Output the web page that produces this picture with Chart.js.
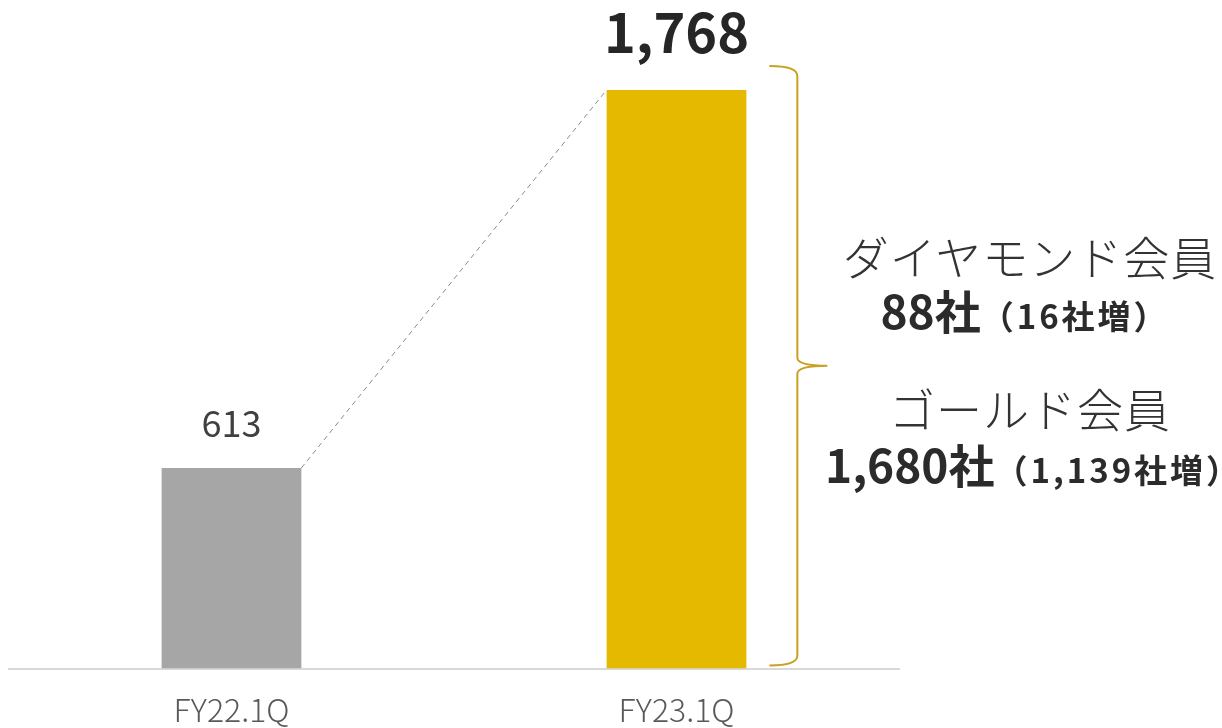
<!DOCTYPE html>
<html lang="ja">
  <head>
    <meta charset="UTF-8" />
    <title>会員数推移</title>
    <script src="https://cdn.jsdelivr.net/npm/chart.js"></script>
    <style>
      body {
        margin: 0;
        background: #fff;
        font-family: "Noto Sans CJK JP", sans-serif;
      }
      .wrap {
        position: relative;
        width: 1222px;
        height: 728px;
      }
      .note {
        position: absolute;
        left: 830px;
        width: 400px;
        text-align: center;
        color: #333;
        white-space: nowrap;
        line-height: 1;
      }
      .kind {
        font-size: 46px;
        font-weight: 300;
        letter-spacing: 1px;
      }
      .count {
        left: 825px;
        font-weight: 700;
        font-size: 46px;
        color: #2b2b2b;
      }
      .count small {
        font-size: 33px;
        letter-spacing: 3px;
      }
    </style>
  </head>
  <body>
    <div class="wrap">
      <canvas id="memberChart"></canvas>
      <!-- 右側の内訳 -->
      <div class="note kind" style="top: 232px">ダイヤモンド会員</div>
      <div class="note count" style="top: 286px">88社<small>（16社増）</small></div>
      <div class="note kind" style="top: 384px">ゴールド会員</div>
      <div class="note count" style="top: 440px">1,680社<small>（1,139社増）</small></div>
    </div>

    <script>
      // データ
      const periods = ["FY22.1Q", "FY23.1Q"];
      const members = [613, 1768];
      const barColors = ["#a6a6a6", "#e5b900"];

      // 棒の上の数値
      const valueLabels = {
        id: "valueLabels",
        afterDatasetsDraw(chart) {
          const ctx = chart.ctx;
          const bars = chart.getDatasetMeta(0).data;
          ctx.save();
          ctx.textAlign = "center";
          ctx.textBaseline = "alphabetic";
          bars.forEach((bar, i) => {
            const last = i === bars.length - 1;
            ctx.fillStyle = last ? "#262626" : "#404040";
            ctx.font = last
              ? "bold 54px 'Noto Sans CJK JP'"
              : "36px 'Noto Sans CJK JP'";
            ctx.fillText(
              members[i].toLocaleString("en-US"),
              bar.x,
              bar.y - (last ? 37 : 31)
            );
          });
          ctx.restore();
        },
      };

      // 点線と括弧
      const connector = {
        id: "connector",
        afterDatasetsDraw(chart) {
          const ctx = chart.ctx;
          const [a, b] = chart.getDatasetMeta(0).data;
          const base = chart.scales.y.getPixelForValue(0);
          ctx.save();
          ctx.strokeStyle = "#8c8c8c";
          ctx.lineWidth = 1;
          ctx.setLineDash([5, 4]);
          ctx.beginPath();
          ctx.moveTo(a.x + a.width / 2, a.y);
          ctx.lineTo(b.x - b.width / 2, b.y);
          ctx.stroke();

          const x0 = b.x + b.width / 2 + 23;
          const x1 = x0 + 28;
          const tip = x1 + 30;
          const yTop = b.y - 24;
          const yBot = base - 3;
          const yMid = (yTop + yBot) / 2;
          ctx.setLineDash([]);
          ctx.strokeStyle = "#c9a021";
          ctx.lineWidth = 2;
          ctx.beginPath();
          ctx.moveTo(x0, yTop);
          ctx.quadraticCurveTo(x1, yTop, x1, yTop + 10);
          ctx.lineTo(x1, yMid - 8);
          ctx.quadraticCurveTo(x1, yMid, tip, yMid);
          ctx.quadraticCurveTo(x1, yMid, x1, yMid + 8);
          ctx.lineTo(x1, yBot - 10);
          ctx.quadraticCurveTo(x1, yBot, x0, yBot);
          ctx.stroke();
          ctx.restore();
        },
      };

      new Chart(document.getElementById("memberChart"), {
        type: "bar",
        data: {
          labels: periods,
          datasets: [
            {
              data: members,
              backgroundColor: barColors,
              barPercentage: 0.314,
              categoryPercentage: 1,
            },
          ],
        },
        options: {
          responsive: true,
          maintainAspectRatio: false,
          animation: false,
          layout: {
            padding: { left: 9, right: 323, top: 14, bottom: -23 },
          },
          plugins: {
            legend: { display: false },
            tooltip: { enabled: false },
          },
          scales: {
            x: {
              grid: { display: false, drawTicks: false },
              border: { display: true, color: "#d9d9d9", width: 2 },
              ticks: {
                color: "#595959",
                padding: 22,
                font: { family: "'Noto Sans CJK JP'", size: 32, weight: 300 },
              },
            },
            y: {
              display: false,
              min: 0,
              max: 2000,
            },
          },
        },
        plugins: [valueLabels, connector],
      });
    </script>
  </body>
</html>
